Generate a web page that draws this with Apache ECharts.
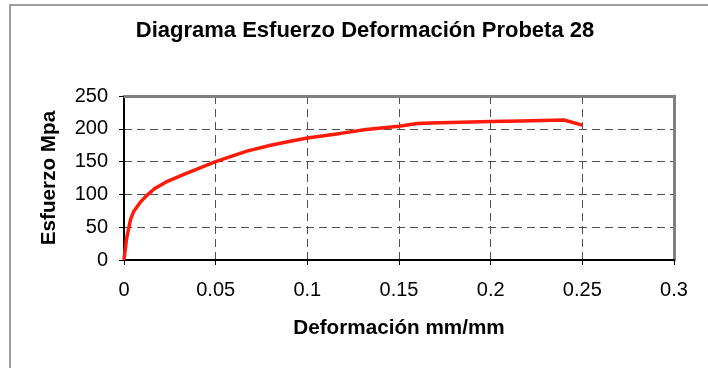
<!DOCTYPE html>
<html>
<head>
<meta charset="utf-8">
<script src="https://cdn.jsdelivr.net/npm/echarts@6/dist/echarts.min.js"></script>
<style>html,body{margin:0;padding:0;background:#fff}#c{width:708px;height:368px}</style>
</head>
<body>
<div id="c"></div>
<script>
var titleText = 'Diagrama Esfuerzo Deformación Probeta 28';
var xName = 'Deformación mm/mm';
var yName = 'Esfuerzo Mpa';
var deformacion = [0, 0.0013, 0.0035, 0.0053, 0.0086, 0.0126, 0.0168, 0.023, 0.034, 0.05, 0.067, 0.08, 0.09, 0.1, 0.118, 0.132, 0.15, 0.16, 0.167, 0.2, 0.216, 0.24, 0.25];
var esfuerzo    = [0, 31, 61, 74, 87, 99, 109, 119, 132, 150, 166, 175, 180.5, 186, 193, 199, 204, 208, 209, 211, 212, 213.5, 205.5];
var xMin = 0, xMax = 0.3, xStep = 0.05;
var yMin = 0, yMax = 250, yStep = 50;

var pts = deformacion.map(function (d, i) { return [d, esfuerzo[i]]; });
var font = '"Liberation Sans", Arial, sans-serif';
var chart = echarts.init(document.getElementById('c'), null, {renderer: 'canvas'});
var dashed = {show: true, lineStyle: {color: '#505050', width: 1, type: [8, 5]}};
chart.setOption({
  animation: false,
  backgroundColor: '#fff',
  graphic: [
    {type: 'rect', shape: {x: 10, y: 5, width: 720, height: 420}, style: {fill: 'none', stroke: '#808080', lineWidth: 1.5}, silent: true},
    {type: 'text', x: 365, y: 20, style: {text: titleText, textAlign: 'center', textVerticalAlign: 'top', font: 'bold 22px ' + font, fill: '#000'}}
  ],
  grid: {left: 124, right: 34, top: 96, bottom: 108, containLabel: false},
  xAxis: [{
    type: 'value', min: xMin, max: xMax, interval: xStep,
    name: xName, nameLocation: 'middle', nameGap: 58,
    nameTextStyle: {fontFamily: font, fontSize: 20.7, fontWeight: 'bold', color: '#000'},
    axisLine: {show: true, onZero: false, lineStyle: {color: '#000', width: 2}},
    axisTick: {show: true, length: 5, lineStyle: {color: '#000', width: 1}},
    axisLabel: {margin: 20, fontFamily: font, fontSize: 20, color: '#000'},
    splitLine: dashed
  }, {
    type: 'value', position: 'top', min: xMin, max: xMax, interval: xStep,
    axisLine: {show: true, onZero: false, lineStyle: {color: '#808080', width: 3}},
    axisTick: {show: false}, axisLabel: {show: false}, splitLine: {show: false}
  }],
  yAxis: [{
    type: 'value', min: yMin, max: yMax, interval: yStep,
    name: yName, nameLocation: 'middle', nameGap: 64,
    nameTextStyle: {fontFamily: font, fontSize: 20.7, fontWeight: 'bold', color: '#000'},
    axisLine: {show: true, onZero: false, lineStyle: {color: '#000', width: 2}},
    axisTick: {show: true, length: 5, lineStyle: {color: '#000', width: 1}},
    axisLabel: {margin: 16, fontFamily: font, fontSize: 20, color: '#000'},
    splitLine: dashed
  }, {
    type: 'value', position: 'right', min: yMin, max: yMax, interval: yStep,
    axisLine: {show: true, onZero: false, lineStyle: {color: '#808080', width: 3}},
    axisTick: {show: false}, axisLabel: {show: false}, splitLine: {show: false}
  }],
  series: [{
    type: 'line', data: pts, xAxisIndex: 0, yAxisIndex: 0,
    showSymbol: false, symbol: 'none', smooth: false,
    lineStyle: {color: '#ff1a0a', width: 3.5}
  }]
});
</script>
</body>
</html>
